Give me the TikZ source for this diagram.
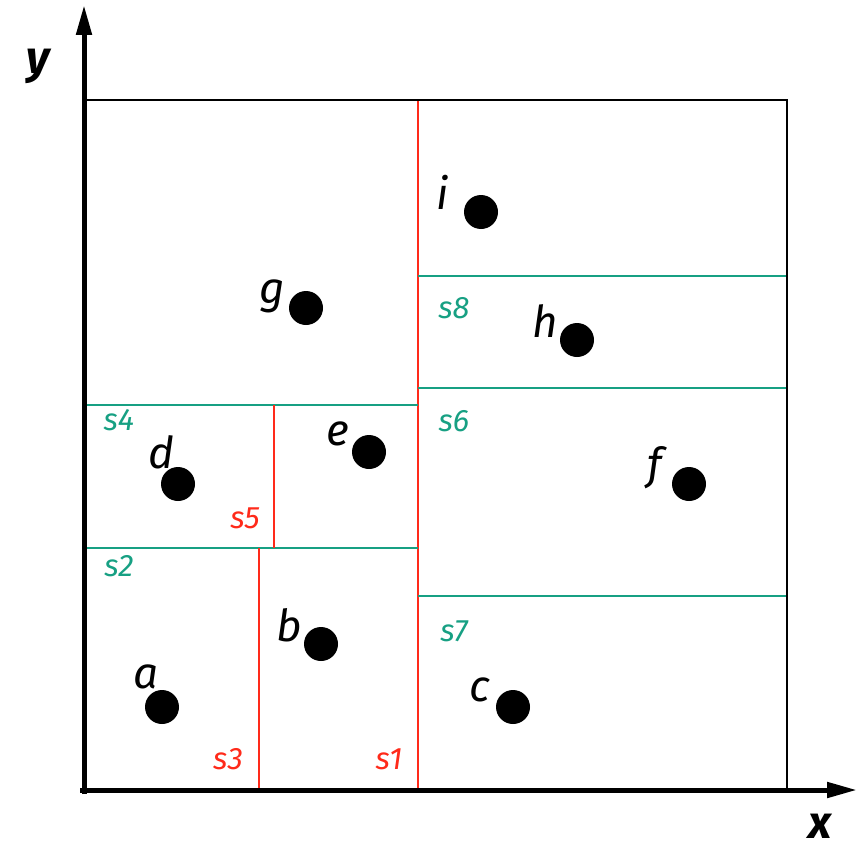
\documentclass[tikz,border=0pt]{standalone}
\usepackage{fontspec}
\setmainfont{Fira Sans}
\usepackage{xcolor}
\usetikzlibrary{arrows.meta}

\definecolor{splitred}{HTML}{FF2A1A}
\definecolor{splitgreen}{HTML}{17A083}

\begin{document}
\begin{tikzpicture}[x=1pt,y=-1pt,
    dot/.style={circle, fill=black, inner sep=0pt, minimum size=34pt},
    ptlabel/.style={font=\fontsize{44}{44}\selectfont\itshape},
    vsplit/.style={splitred, line width=1.6pt},
    hsplit/.style={splitgreen, line width=1.6pt},
    redtag/.style={splitred, font=\fontsize{31}{31}\selectfont\itshape},
    greentag/.style={splitgreen, font=\fontsize{31}{31}\selectfont\itshape},
    axislabel/.style={font=\fontsize{46}{46}\selectfont\bfseries\itshape}]
    \useasboundingbox (0,0) rectangle (859,851);
    % Region corners
    \coordinate (ll) at (84,790);
    \coordinate (ur) at (787,100);
    % Splitting lines
    \draw[vsplit] (418,100) -- (418,790);   % s1
    \draw[hsplit] (84,548) -- (418,548);    % s2
    \draw[vsplit] (259,548) -- (259,790);   % s3
    \draw[hsplit] (84,405) -- (418,405);    % s4
    \draw[vsplit] (274,405) -- (274,548);   % s5
    \draw[hsplit] (418,388) -- (787,388);   % s6
    \draw[hsplit] (418,596) -- (787,596);   % s7
    \draw[hsplit] (418,276) -- (787,276);   % s8
    % Outer box
    \draw[line width=1.6pt] (84,100) -- (ur) -- (787,790);
    % Axes
    \coordinate (ytip) at (84,5);
    \coordinate (xtip) at (857,790);
    \draw[line width=5pt, -{Triangle[length=30pt,width=15pt]}] (84,794) -- (ytip);
    \draw[line width=5pt, -{Triangle[length=30pt,width=15pt]}] (80,790) -- (xtip);
    \node[axislabel] (ylab) at (38,66) {y};
    \node[axislabel] (xlab) at (820,826) {x};
    % Points
    \foreach \n/\px/\py/\lx/\ly in {a/162/707/146/677, b/321/644/289/625,
        c/513/707/480/690, d/178/484/161/452, e/369/452/338/434,
        f/689/484/655/468, g/306/308/272/296, h/577/340/545/321,
        i/481/212/443/192} {
      \node[dot] (\n) at (\px,\py) {};
      \node[ptlabel] (lab\n) at (\lx,\ly) {\n};
    }
    % Split labels
    \node[redtag] (t1) at (389,759) {s1};
    \node[greentag] (t2) at (119,566) {s2};
    \node[redtag] (t3) at (228,759) {s3};
    \node[greentag] (t4) at (119,420) {s4};
    \node[redtag] (t5) at (245,518) {s5};
    \node[greentag] (t6) at (454,421) {s6};
    \node[greentag] (t7) at (454,631) {s7};
    \node[greentag] (t8) at (454,308) {s8};
\end{tikzpicture}
\end{document}
